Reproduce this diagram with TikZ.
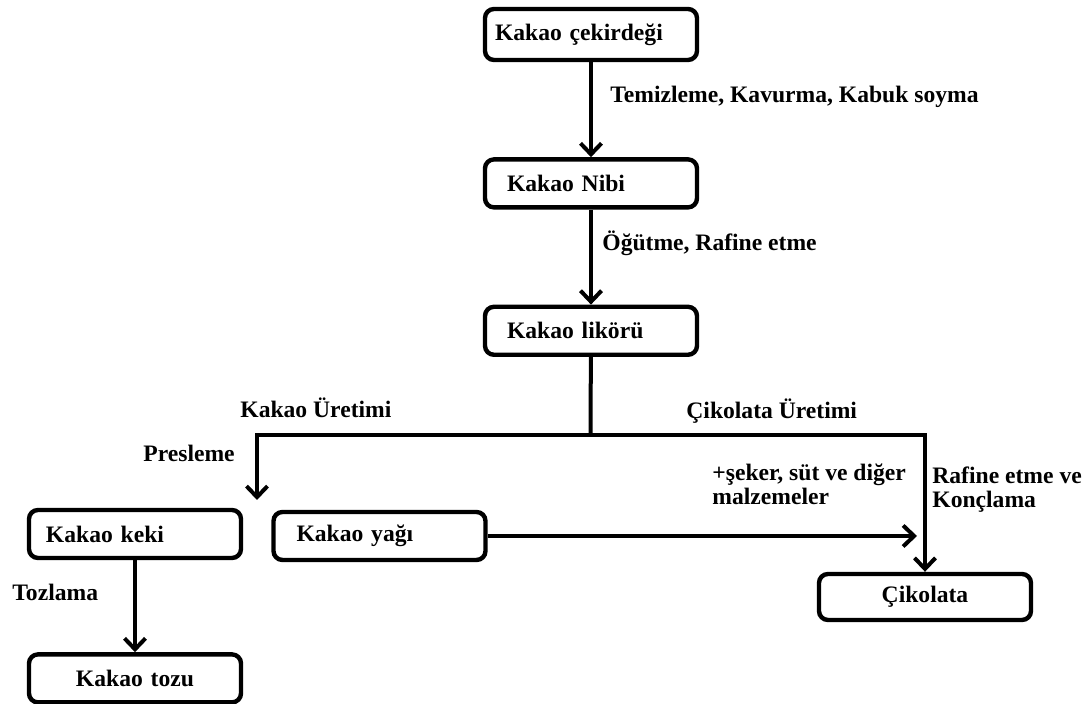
\documentclass[tikz,border=0pt]{standalone}
\usepackage{fontspec}
\setmainfont{Liberation Serif}
\usetikzlibrary{positioning,arrows.meta}

\begin{document}
\begin{tikzpicture}[
  x=0.5pt, y=-0.5pt,
  font=\bfseries\fontsize{11.8}{12}\selectfont,
  node distance=47.5pt,
  stage/.style={draw,line width=2.2pt,rounded corners=4.5pt,fill=white,inner xsep=5pt,minimum width=106pt,minimum height=24pt,text width=96pt,align=left},
  endstage/.style={stage,align=center},
  lbl/.style={inner sep=0pt,align=left,anchor=west},
  arr/.style={-{Straight Barb[length=5.5pt,width=10.5pt]},line width=2pt},
  conn/.style={line width=2pt}
]
\useasboundingbox (0,0) rectangle (1089,704);

\node[stage,minimum height=25.5pt] (seed) at (591,34.5) {Kakao çekirdeği};
\node[stage,below=of seed] (nib) {\hspace*{6pt}Kakao Nibi};
\node[stage,below=of nib] (liquor) {\hspace*{6pt}Kakao likörü};
\node[stage] (cake) at (135,534) {\hspace*{3.5pt}Kakao keki};
\node[stage] (butter) at (379.5,536) {\hspace*{6.5pt}Kakao yağı};
\node[endstage,minimum height=23pt] (choc) at (925,597) {Çikolata};
\node[endstage,below=46pt of cake] (powder) {Kakao tozu};

\coordinate (fork) at (590.5,435);
\coordinate (press) at (257,500);
\coordinate (mix) at (917,536);

\draw[arr] (seed) -- (nib);
\draw[arr] (nib) -- (liquor);
\draw[conn] (liquor) -- (fork);
\draw[arr] (fork) -| (press);
\draw[arr] (fork) -| (choc);
\draw[arr] (butter.east) -- (mix);
\draw[arr] (cake) -- (powder);

\node[lbl] (clean) at (610,97) {Temizleme, Kavurma, Kabuk soyma};
\node[lbl] (grind) at (602,243) {Öğütme, Rafine etme};
\node[lbl] (cocoa) at (240,408) {Kakao Üretimi};
\node[lbl] (chocprod) at (686,411) {Çikolata Üretimi};
\node[lbl] (pressing) at (143,453) {Presleme};
\node[lbl] (sugar) at (712,484) {+şeker, süt ve diğer\\malzemeler};
\node[lbl] (conche) at (932,490) {Rafine etme ve\\Konçlama};
\node[lbl] (dust) at (12,592) {Tozlama};
\end{tikzpicture}
\end{document}
